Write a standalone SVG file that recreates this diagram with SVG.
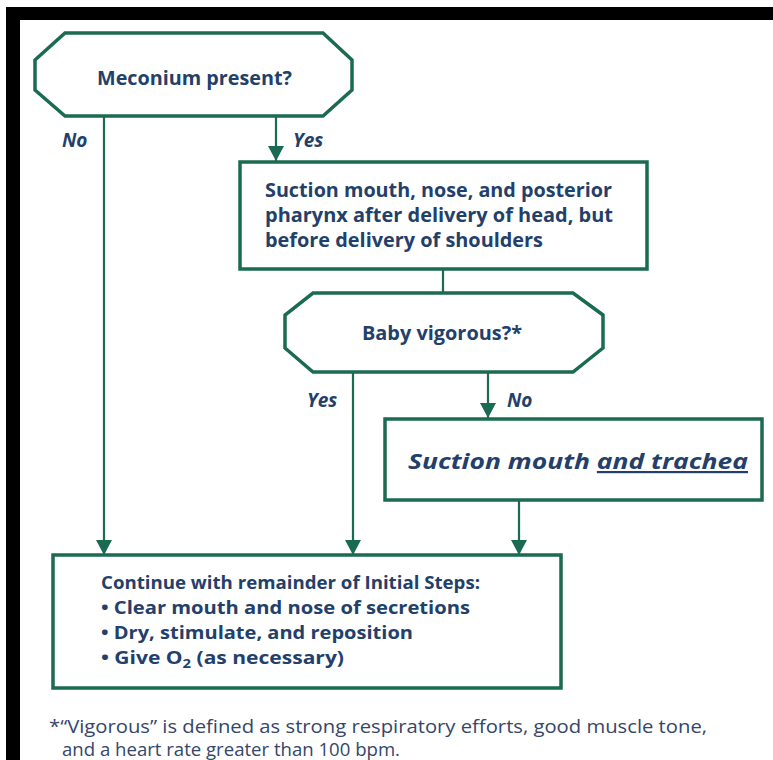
<svg xmlns="http://www.w3.org/2000/svg" width="773" height="760" viewBox="0 0 773 760">
<style>
.shape{fill:#ffffff;stroke:#1b6a52;stroke-width:3.5}
.conn{stroke:#1b6a52;stroke-width:2.2;fill:none}
.t{font-family:"Open Sans","Liberation Sans",sans-serif;font-weight:700;fill:#23406b}
.lbl{font-family:"Open Sans","Liberation Sans",sans-serif;font-weight:700;font-style:italic;fill:#23406b;font-size:19px}
.fn{font-family:"Open Sans","Liberation Sans",sans-serif;font-weight:400;fill:#34466a;font-size:18px}
</style>
<defs>
<marker id="arr" markerUnits="userSpaceOnUse" markerWidth="16" markerHeight="16" viewBox="0 0 16 16" refX="15" refY="8" orient="auto">
<path d="M0,0 L15,8 L0,16 Z" fill="#1b6a52"/>
</marker>
</defs>
<rect x="0" y="0" width="773" height="760" fill="#ffffff"/>
<rect x="6" y="7" width="767" height="13" fill="#000000"/>
<rect x="6" y="7" width="14" height="753" fill="#000000"/>

<g id="connectors">
<line class="conn" x1="104" y1="116" x2="104" y2="555" marker-end="url(#arr)"/>
<line class="conn" x1="276" y1="116" x2="276" y2="161" marker-end="url(#arr)"/>
<line class="conn" x1="443" y1="269" x2="443" y2="293"/>
<line class="conn" x1="353" y1="372" x2="353" y2="555" marker-end="url(#arr)"/>
<line class="conn" x1="488" y1="372" x2="488" y2="418" marker-end="url(#arr)"/>
<line class="conn" x1="519" y1="500" x2="519" y2="555" marker-end="url(#arr)"/>
<text class="lbl" x="62" y="147">No</text>
<text class="lbl" x="293" y="147">Yes</text>
<text class="lbl" x="307" y="407">Yes</text>
<text class="lbl" x="507" y="407">No</text>
</g>

<g id="meconium">
<polygon class="shape" points="65,33 323,33 352,60 352,90 323,116 65,116 35,90 35,60"/>
<text class="t" x="97" y="85" font-size="19" textLength="195" lengthAdjust="spacingAndGlyphs">Meconium present?</text>
</g>

<g id="suction">
<rect class="shape" x="240" y="162" width="407" height="107"/>
<text class="t" x="265" y="197" font-size="19" textLength="347" lengthAdjust="spacingAndGlyphs">Suction mouth, nose, and posterior</text>
<text class="t" x="265" y="222" font-size="19" textLength="348" lengthAdjust="spacingAndGlyphs">pharynx after delivery of head, but</text>
<text class="t" x="265" y="247" font-size="19" textLength="278" lengthAdjust="spacingAndGlyphs">before delivery of shoulders</text>
</g>

<g id="vigorous">
<polygon class="shape" points="313,293 573,293 603,315 603,348 573,372 313,372 285,348 285,315"/>
<text class="t" x="362" y="340" font-size="19" textLength="160" lengthAdjust="spacingAndGlyphs">Baby vigorous?*</text>
</g>

<g id="trachea">
<rect class="shape" x="385" y="419" width="377" height="81"/>
<text class="t" x="408" y="469" font-size="22" font-style="italic" textLength="340" lengthAdjust="spacingAndGlyphs">Suction mouth <tspan text-decoration="underline">and trachea</tspan></text>
</g>

<g id="continue">
<rect class="shape" x="53" y="555" width="508" height="133"/>
<text class="t" x="101" y="589" font-size="18.5" textLength="379" lengthAdjust="spacingAndGlyphs">Continue with remainder of Initial Steps:</text>
<text class="t" x="101" y="614" font-size="18.5" textLength="369" lengthAdjust="spacingAndGlyphs">• Clear mouth and nose of secretions</text>
<text class="t" x="101" y="639" font-size="18.5" textLength="312" lengthAdjust="spacingAndGlyphs">• Dry, stimulate, and reposition</text>
<text class="t" x="101" y="664" font-size="18.5" textLength="243" lengthAdjust="spacingAndGlyphs">• Give O<tspan font-size="13" dy="4">2</tspan><tspan dy="-4"> (as necessary)</tspan></text>
</g>

<g id="footnote">
<text class="fn" x="49" y="733" textLength="658" lengthAdjust="spacingAndGlyphs">*“Vigorous” is defined as strong respiratory efforts, good muscle tone,</text>
<text class="fn" x="62" y="756" textLength="338" lengthAdjust="spacingAndGlyphs">and a heart rate greater than 100 bpm.</text>
</g>
</svg>
